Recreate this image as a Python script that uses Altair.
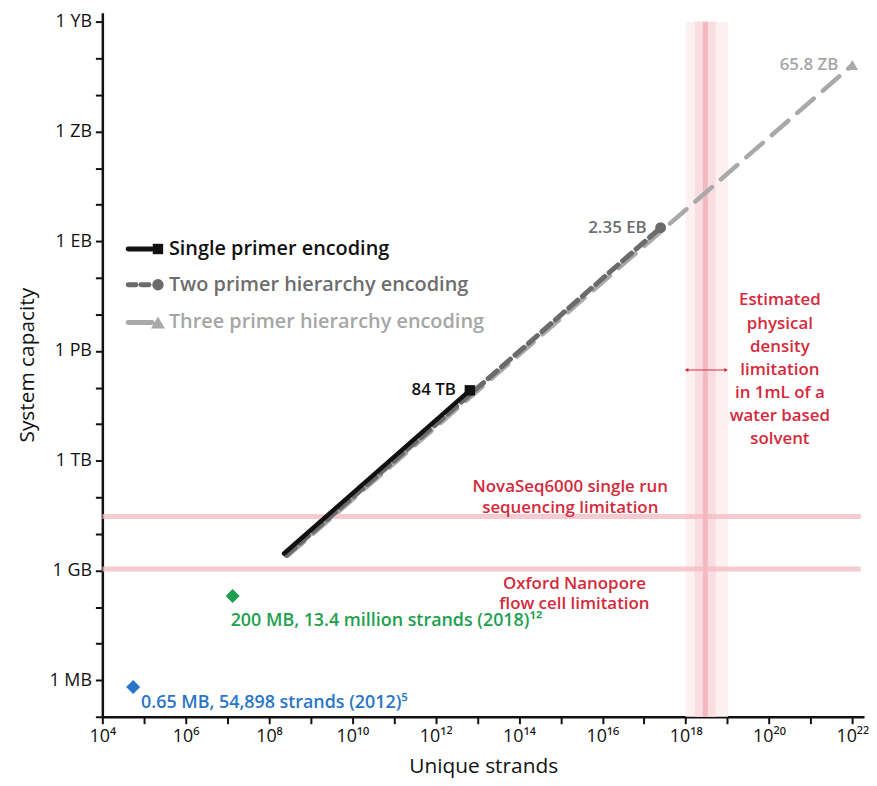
import altair as alt
import pandas as pd

FONT = "Open Sans"
RED = "#d42a3c"

# ---------------- data ----------------
series_names = ["Single primer encoding", "Two primer hierarchy encoding", "Three primer hierarchy encoding"]
series_colors = ["#111111", "#6b6b6b", "#a9a9a9"]
series_shapes = ["square", "circle", "triangle-up"]
start_strands = [2.3e8, 2.6e8, 2.8e8]
start_capacity = [2.9e9, 2.6e9, 2.5e9]
end_strands = [6.6e12, 2.5e17, 1.0e22]
end_capacity = [8.4e13, 2.35e18, 6.58e22]
end_labels = ["84 TB", "2.35 EB", "65.8 ZB"]

study_labels = ["0.65 MB, 54,898 strands (2012)⁵", "200 MB, 13.4 million strands (2018)¹²"]
study_strands = [54898, 1.34e7]
study_capacity = [6.5e5, 2.0e8]
study_colors = ["#2a76c6", "#1ea04f"]

limit_labels = ["NovaSeq6000 single run\nsequencing limitation", "Oxford Nanopore\nflow cell limitation"]
limit_capacity = [3.0e10, 1.1e9]

density_center = 10 ** 18.47
density_outer = [10 ** 18.0, 10 ** 19.02]
density_inner = [10 ** 18.22, 10 ** 18.72]
density_text = "Estimated\nphysical\ndensity\nlimitation\nin 1mL of a\nwater based\nsolvent"

x_exponents = list(range(4, 23))
x_label_exponents = [4, 6, 8, 10, 12, 14, 16, 18, 20, 22]
x_label_texts = ["10⁴", "10⁶", "10⁸", "10¹⁰", "10¹²", "10¹⁴", "10¹⁶", "10¹⁸", "10²⁰", "10²²"]
y_exponents = list(range(5, 25))
y_label_exponents = [6, 9, 12, 15, 18, 21, 24]
y_label_texts = ["1 MB", "1 GB", "1 TB", "1 PB", "1 EB", "1 ZB", "1 YB"]

X_MIN, X_MAX = 1e4, 10 ** 22.28
Y_MIN, Y_MAX = 1e5, 10 ** 24.25

# ---------------- tables ----------------
lines_rows = []
for i, s in enumerate(series_names):
    lines_rows.append({"series": s, "strands": start_strands[i], "capacity": start_capacity[i], "o": 0})
    lines_rows.append({"series": s, "strands": end_strands[i], "capacity": end_capacity[i], "o": 1})
lines_df = pd.DataFrame(lines_rows)
ends_df = pd.DataFrame({"series": series_names, "strands": end_strands,
                        "capacity": end_capacity, "label": end_labels})
study_df = pd.DataFrame({"label": study_labels, "strands": study_strands,
                         "capacity": study_capacity, "idx": [0, 1]})
limits_df = pd.DataFrame({"label": limit_labels, "capacity": limit_capacity,
                          "strands": [X_MIN] * 2, "strands2": [10 ** 22.2] * 2,
                          "tx": [10 ** 15.23, 10 ** 15.33],
                          "ty": [10 ** 11.27, 10 ** 8.64]})


def expo_expr(exps, texts):
    e = "round(log(datum.value)/LN10)"
    parts = [f"{e} == {k} ? '{t}'" for k, t in zip(exps, texts)]
    return " : ".join(parts) + " : ''"


xs = alt.Scale(type="log", domain=[X_MIN, X_MAX], nice=False)
ys = alt.Scale(type="log", domain=[Y_MIN, Y_MAX], nice=False)
xaxis = alt.Axis(title="Unique strands", values=[float(10 ** e) for e in x_exponents],
                 labelExpr=expo_expr(x_label_exponents, x_label_texts),
                 labelPadding=4, titlePadding=10, labelFlush=False, labelOverlap=False, grid=False)
yaxis = alt.Axis(title="System capacity", values=[float(10 ** e) for e in y_exponents],
                 labelExpr=expo_expr(y_label_exponents, y_label_texts),
                 labelPadding=4, titlePadding=12, labelOverlap=False, labelFlush=False, grid=False)


def X(field="strands"):
    return alt.X(f"{field}:Q", scale=xs, axis=xaxis)


def Y(field="capacity"):
    return alt.Y(f"{field}:Q", scale=ys, axis=yaxis)


color_scale = alt.Scale(domain=series_names, range=series_colors)

# ---------------- density band ----------------
band_df = pd.DataFrame({"strands": [density_outer[0], density_inner[0]],
                        "strands2": [density_outer[1], density_inner[1]],
                        "capacity": [Y_MIN, Y_MIN], "capacity2": [1e24, 1e24],
                        "shade": ["#fdf0f1", "#fadde1"]})
band = alt.Chart(band_df).mark_rect().encode(
    x=X(), x2="strands2", y=Y(), y2="capacity2",
    color=alt.Color("shade:N", scale=None))
band_center = alt.Chart(pd.DataFrame({"strands": [density_center], "capacity": [Y_MIN],
                                      "capacity2": [1e24]})).mark_rule(
    color="#f2b9c0", strokeWidth=5).encode(x=X(), y=Y(), y2="capacity2")

limit_rules = alt.Chart(limits_df).mark_rule(color="#f3b9bf", strokeWidth=5, opacity=0.75).encode(
    x=X(), x2="strands2", y=Y())
limit_text = alt.Chart(limits_df).mark_text(
    lineBreak="\n", color=RED, font=FONT, fontSize=17, fontWeight=600, lineHeight=21,
    align="center", baseline="middle").encode(x=X("tx"), y=Y("ty"), text="label:N")

arrow_y = 10 ** 14.48
arrow_df = pd.DataFrame({"strands": [10 ** 18.02], "strands2": [10 ** 18.97], "capacity": [arrow_y]})
arrow_line = alt.Chart(arrow_df).mark_rule(color=RED, strokeWidth=1).encode(
    x=X(), x2="strands2", y=Y())
heads_df = pd.DataFrame({"strands": [10 ** 18.02, 10 ** 18.97], "capacity": [arrow_y, arrow_y],
                         "sh": ["triangle-left", "triangle-right"]})
arrow_heads = alt.Chart(heads_df).mark_point(filled=True, color=RED, size=18, opacity=1).encode(
    x=X(), y=Y(), shape=alt.Shape("sh:N", scale=None))
density_label = alt.Chart(pd.DataFrame({"strands": [10 ** 20.26], "capacity": [10 ** 16.38],
                                        "label": [density_text]})).mark_text(
    lineBreak="\n", color=RED, font=FONT, fontSize=17, fontWeight=600, lineHeight=23.2,
    align="center", baseline="middle").encode(x=X(), y=Y(), text="label:N")

# ---------------- series lines ----------------
dash_specs = {
    series_names[2]: dict(strokeDash=[22, 12], strokeWidth=4.5),
    series_names[1]: dict(strokeDash=[12, 6], strokeWidth=5),
    series_names[0]: dict(strokeWidth=4.5),
}
line_layers = []
for s in [series_names[2], series_names[1], series_names[0]]:
    line_layers.append(
        alt.Chart(lines_df).transform_filter(alt.datum.series == s).mark_line(
            strokeCap="round", **dash_specs[s]).encode(
            x=X(), y=Y(), order="o:Q",
            color=alt.Color("series:N", scale=color_scale, legend=None)))

end_marks = alt.Chart(ends_df).mark_point(filled=True, opacity=1).encode(
    x=X(), y=Y(),
    color=alt.Color("series:N", scale=color_scale, legend=None),
    shape=alt.Shape("series:N", scale=alt.Scale(domain=series_names, range=series_shapes), legend=None),
    size=alt.Size("series:N", scale=alt.Scale(domain=series_names, range=[110, 130, 230]), legend=None))
end_text = alt.Chart(ends_df).mark_text(
    align="right", baseline="middle", dx=-14, font=FONT, fontSize=17, fontWeight=600).encode(
    x=X(), y=Y(), text="label:N",
    color=alt.Color("series:N", scale=alt.Scale(domain=series_names,
                                                range=["#111111", "#6d6d6d", "#a6a6a6"]), legend=None))

# ---------------- studies ----------------
study_color = alt.Color("label:N", scale=alt.Scale(domain=study_labels, range=study_colors), legend=None)
study_pts = alt.Chart(study_df).mark_point(shape="diamond", filled=True, size=200, opacity=1).encode(
    x=X(), y=Y(), color=study_color)
study_txt0 = alt.Chart(study_df).transform_filter(alt.datum.idx == 0).mark_text(
    align="left", baseline="middle", dx=8, dy=16, font=FONT, fontSize=18, fontWeight=600).encode(
    x=X(), y=Y(), text="label:N", color=study_color)
study_txt1 = alt.Chart(study_df).transform_filter(alt.datum.idx == 1).mark_text(
    align="left", baseline="middle", dx=-2, dy=25, font=FONT, fontSize=18, fontWeight=600).encode(
    x=X(), y=Y(), text="label:N", color=study_color)

# ---------------- manual legend ----------------
leg_rows = [238, 274, 312]
legend_layers = []
leg_dash = [None, [8, 5], None]
for i, s in enumerate(series_names):
    kw = dict(color=series_colors[i], strokeWidth=5, strokeCap="round")
    if leg_dash[i]:
        kw["strokeDash"] = leg_dash[i]
    legend_layers.append(alt.Chart(pd.DataFrame({"series": [s]})).mark_rule(**kw).encode(
        x=alt.value(26), x2=alt.value(50), y=alt.value(leg_rows[i])))
    legend_layers.append(alt.Chart(pd.DataFrame({"series": [s]})).mark_point(
        shape=series_shapes[i], filled=True, opacity=1, color=series_colors[i],
        size=[110, 130, 200][i]).encode(x=alt.value(56), y=alt.value(leg_rows[i])))
    legend_layers.append(alt.Chart(pd.DataFrame({"series": [s]})).mark_text(
        align="left", baseline="middle", font=FONT, fontSize=20, fontWeight=600,
        color=["#111111", "#6d6d6d", "#a6a6a6"][i]).encode(
        x=alt.value(67), y=alt.value(leg_rows[i]), text="series:N"))

chart = alt.layer(
    band, band_center, limit_rules, limit_text, arrow_line, arrow_heads, density_label,
    *line_layers, end_marks, end_text, study_pts, study_txt0, study_txt1, *legend_layers
).resolve_scale(color="independent", shape="independent", size="independent").properties(
    width=767, height=709,
    background="white",
    autosize=alt.AutoSizeParams(type="none"),
    padding={"left": 95, "top": 2, "right": 5, "bottom": 60},
).configure_view(stroke=None).configure_axis(
    domainColor="#111111", domainWidth=2.5, tickColor="#111111", tickWidth=2, tickSize=7,
    labelFont=FONT, labelFontSize=18, labelColor="#111111",
    titleFont=FONT, titleFontSize=21, titleFontWeight="normal", titleColor="#111111",
    grid=False,
)

chart.save("out.html", embed_options={"renderer": "svg", "actions": False})
